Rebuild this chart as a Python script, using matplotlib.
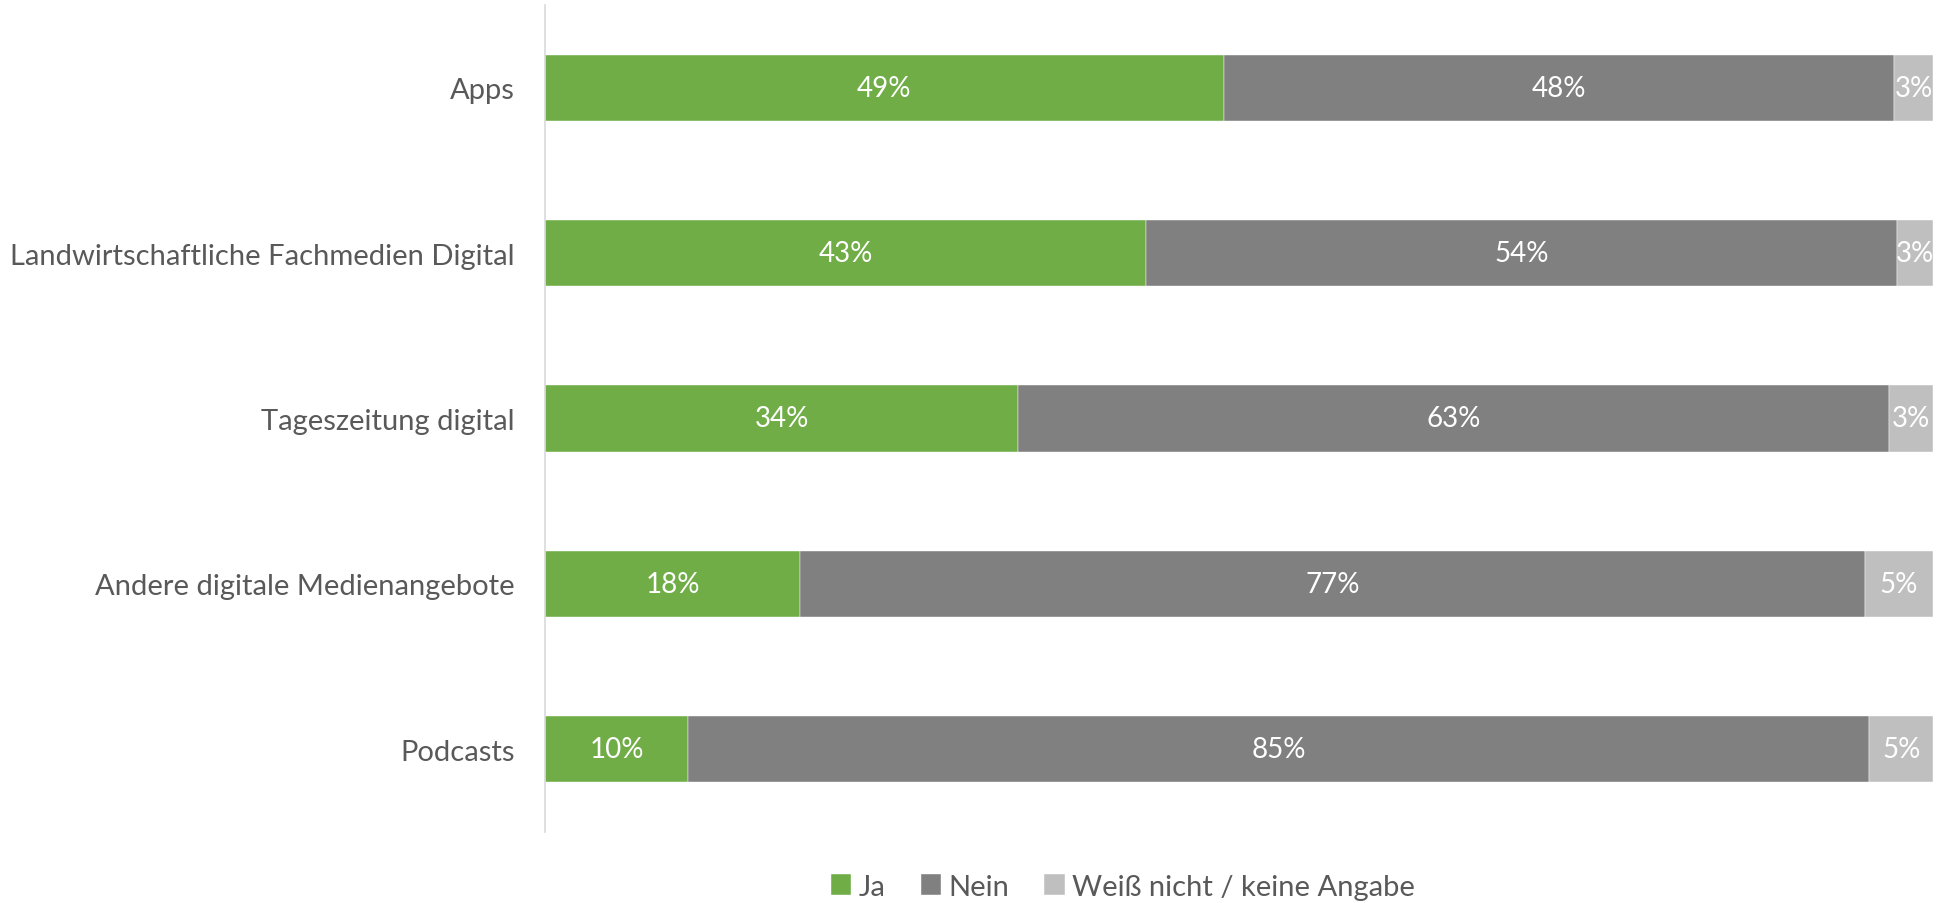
import matplotlib
matplotlib.use('Agg')
import matplotlib.pyplot as plt
import numpy as np

# Survey shares per medium (percent)
categories = ['Apps', 'Landwirtschaftliche Fachmedien Digital', 'Tageszeitung digital',
              'Andere digitale Medienangebote', 'Podcasts']
ja = [48.9, 43.3, 34.1, 18.4, 10.3]
nein = [48.3, 54.1, 62.7, 76.7, 85.1]
weiss_nicht = [2.8, 2.6, 3.2, 4.9, 4.6]
series_names = ['Ja', 'Nein', 'Weiß nicht / keine Angabe']

colors = ['#70AD47', '#808080', '#BFBFBF']
text_gray = '#595959'

plt.rcParams['font.family'] = ['Lato', 'DejaVu Sans']

fig = plt.figure(figsize=(19.36, 9.04), dpi=100)
ax = fig.add_axes([0.2815, 0.0785, 0.717, 0.915])

y = np.arange(len(categories))
left = np.zeros(len(categories))
for vals, name, col in zip([ja, nein, weiss_nicht], series_names, colors):
    vals = np.array(vals)
    bars = ax.barh(y, vals, left=left, height=0.4, color=col, label=name,
                   edgecolor='white', linewidth=0.3)
    for b, v in zip(bars, vals):
        ax.text(b.get_x() + b.get_width() / 2, b.get_y() + b.get_height() / 2,
                f'{v:.0f}%', ha='center', va='center', color='white', fontsize=20)
    left += vals

ax.set_xlim(0, 100)
ax.set_ylim(len(categories) - 0.5, -0.5)
ax.set_yticks(y)
ax.set_yticklabels(categories, fontsize=21, color=text_gray)
ax.tick_params(axis='y', length=0, pad=22)
ax.set_xticks([])
for s in ['top', 'right', 'bottom']:
    ax.spines[s].set_visible(False)
ax.spines['left'].set_color('#D9D9D9')
ax.spines['left'].set_linewidth(1.2)

leg = fig.legend(loc='center', bbox_to_anchor=(0.58, 0.018), ncol=3, frameon=False,
                 fontsize=21, handlelength=0.7, handleheight=0.7, handletextpad=0.25,
                 columnspacing=1.2)
for t in leg.get_texts():
    t.set_color(text_gray)

plt.savefig('out.png', dpi=100)
plt.close()
